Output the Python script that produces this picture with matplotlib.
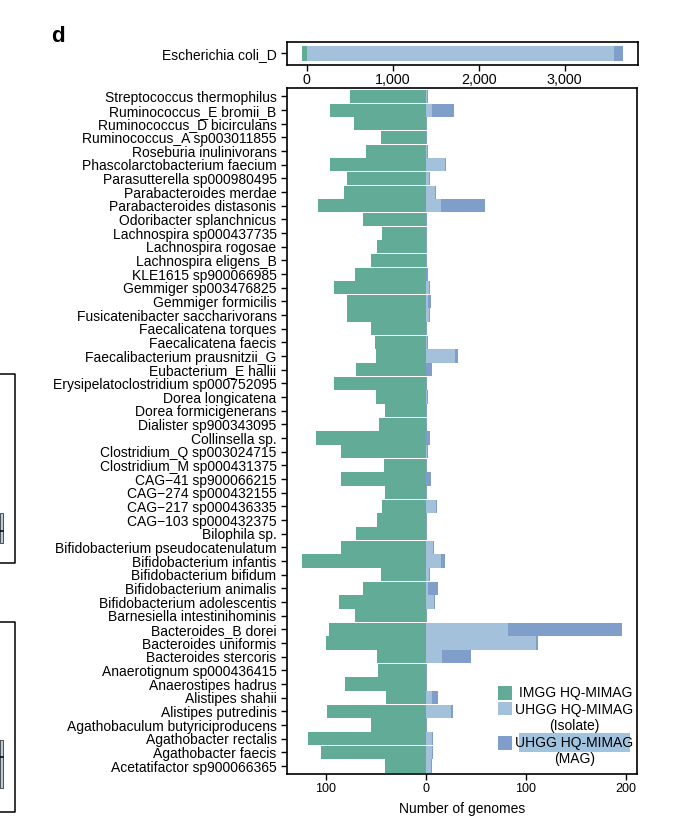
import matplotlib
matplotlib.use("Agg")
import matplotlib.pyplot as plt
from matplotlib.patches import Rectangle
from matplotlib.ticker import FuncFormatter
import numpy as np

plt.rcParams['font.family'] = ['Liberation Sans', 'DejaVu Sans']

species = [
    "Streptococcus thermophilus", "Ruminococcus_E bromii_B", "Ruminococcus_D bicirculans",
    "Ruminococcus_A sp003011855", "Roseburia inulinivorans", "Phascolarctobacterium faecium",
    "Parasutterella sp000980495", "Parabacteroides merdae", "Parabacteroides distasonis",
    "Odoribacter splanchnicus", "Lachnospira sp000437735", "Lachnospira rogosae",
    "Lachnospira eligens_B", "KLE1615 sp900066985", "Gemmiger sp003476825",
    "Gemmiger formicilis", "Fusicatenibacter saccharivorans", "Faecalicatena torques",
    "Faecalicatena faecis", "Faecalibacterium prausnitzii_G", "Eubacterium_E hallii",
    "Erysipelatoclostridium sp000752095", "Dorea longicatena", "Dorea formicigenerans",
    "Dialister sp900343095", "Collinsella sp.", "Clostridium_Q sp003024715",
    "Clostridium_M sp000431375", "CAG\u221241 sp900066215", "CAG\u2212274 sp000432155",
    "CAG\u2212217 sp000436335", "CAG\u2212103 sp000432375", "Bilophila sp.",
    "Bifidobacterium pseudocatenulatum", "Bifidobacterium infantis", "Bifidobacterium bifidum",
    "Bifidobacterium animalis", "Bifidobacterium adolescentis", "Barnesiella intestinihominis",
    "Bacteroides_B dorei", "Bacteroides uniformis", "Bacteroides stercoris",
    "Anaerotignum sp000436415", "Anaerostipes hadrus", "Alistipes shahii",
    "Alistipes putredinis", "Agathobaculum butyriciproducens", "Agathobacter rectalis",
    "Agathobacter faecis", "Acetatifactor sp900066365",
]
imgg = [76, 96, 72, 45, 60, 96, 79, 82, 108, 63, 44, 49, 55, 71, 92, 79, 79, 55, 51, 50,
        70, 92, 50, 41, 47, 110, 85, 42, 85, 41, 44, 49, 70, 85, 124, 45, 63, 87, 71, 97,
        100, 49, 48, 81, 40, 99, 55, 118, 105, 41]
uhgg_isolate = [1, 6, 0, 0, 1, 19, 3, 9, 15, 0, 0, 0, 0, 0, 3, 2, 3, 0, 1, 29,
                0, 0, 1, 0, 0, 0, 1, 0, 0, 0, 10, 0, 0, 7, 15, 3, 2, 8, 0, 82,
                110, 16, 0, 0, 6, 25, 0, 6, 6, 5]
uhgg_mag = [1, 22, 1, 1, 1, 1, 1, 1, 44, 1, 1, 1, 1, 2, 1, 3, 1, 1, 1, 3,
            6, 1, 1, 1, 1, 4, 1, 1, 5, 1, 1, 1, 1, 1, 4, 1, 10, 1, 1, 114,
            2, 29, 1, 1, 6, 2, 1, 1, 1, 1]

ecoli_label = "Escherichia coli_D"
ecoli_imgg = 58
ecoli_isolate = 3572
ecoli_mag = 106

main_ticks = [-100, 0, 100, 200]
top_ticks = [0, 1000, 2000, 3000]

C_IMGG = "#61AB97"
C_ISO = "#A3C1DB"
C_MAG = "#7F9EC9"

W, H = 678, 832
fig = plt.figure(figsize=(W / 100, H / 100), dpi=100)


def fax(l, t, r, b):
    return [l / W, 1 - b / H, (r - l) / W, (b - t) / H]


# top axis (E. coli)
axt = fig.add_axes(fax(286.7, 41.7, 638.3, 65))
axt.barh([0], [-ecoli_imgg], height=1, color=C_IMGG)
axt.barh([0], [ecoli_isolate], height=1, color=C_ISO)
axt.barh([0], [ecoli_mag], left=[ecoli_isolate], height=1, color=C_MAG)
axt.set_xlim(-232, 3856)
axt.set_ylim(-0.79, 0.79)
axt.set_yticks([0])
axt.set_yticklabels([ecoli_label], fontsize=10)
axt.set_xticks(top_ticks)
axt.xaxis.set_major_formatter(FuncFormatter(lambda v, p: f"{int(v):,}"))
axt.tick_params(axis='x', labelsize=10.3, length=4.5, width=1, pad=1.5)
axt.tick_params(axis='y', length=4.5, width=1, pad=3)
for s in axt.spines.values():
    s.set_linewidth(1.2)

# main axis
ax = fig.add_axes(fax(287, 88.3, 637, 773.7))
y = np.arange(len(species))
imgg_a = np.array(imgg)
iso_a = np.array(uhgg_isolate)
mag_a = np.array(uhgg_mag)
ax.barh(y, -imgg_a, height=0.97, color=C_IMGG, linewidth=0)
ax.barh(y, iso_a, height=0.97, color=C_ISO, linewidth=0)
ax.barh(y, mag_a, left=iso_a, height=0.97, color=C_MAG, linewidth=0)
ax.set_ylim(len(species) - 0.44, -0.6)
ax.set_xlim(-139, 211)
ax.set_yticks(y)
ax.set_yticklabels(species, fontsize=10)
ax.set_xticks(main_ticks)
ax.xaxis.set_major_formatter(FuncFormatter(lambda v, p: f"{abs(int(v))}"))
ax.tick_params(axis='x', labelsize=9, length=4.5, width=1, pad=2.5)
ax.tick_params(axis='y', length=4.5, width=1, pad=3)
ax.set_xlabel("Number of genomes", fontsize=10, labelpad=5)
for s in ax.spines.values():
    s.set_linewidth(1.2)

# legend (manual)
def frect(l, t, w, h, **kw):
    r = Rectangle((l / W, 1 - (t + h) / H), w / W, h / H, transform=fig.transFigure, **kw)
    fig.add_artist(r)

frect(498, 686, 14, 14, color=C_IMGG, linewidth=0, zorder=2)
frect(498, 702, 14, 13, color=C_ISO, linewidth=0, zorder=2)
frect(498, 736, 14, 14, color=C_MAG, linewidth=0, zorder=2)
frect(519, 733, 111, 19, color="#A0C3E0", linewidth=0, zorder=2)
fig.text(519 / W, 1 - 693 / H, "IMGG HQ-MIMAG", fontsize=10, va='center', ha='left', zorder=5)
fig.text(574.5 / W, 1 - 718 / H, "UHGG HQ-MIMAG\n(Isolate)", fontsize=10, va='center',
         ha='center', multialignment='center', linespacing=1.15, zorder=5)
fig.text(574.5 / W, 1 - 751 / H, "UHGG HQ-MIMAG\n(MAG)", fontsize=10, va='center',
         ha='center', multialignment='center', linespacing=1.15, zorder=5)

# panel label
fig.text(51 / W, 1 - 42 / H, "d", fontsize=16, fontweight='bold', ha='left', va='baseline')

# remnants of neighbouring panels at left edge
def fline(xs, ys):
    fig.add_artist(plt.Line2D([x / W for x in xs], [1 - v / H for v in ys],
                              transform=fig.transFigure, color='black', linewidth=1.1))

fline([0, 14.5, 14.5, 0], [374, 374, 563, 563])
frect(0, 513, 3, 30, facecolor="#B9CFE0", edgecolor="#333333", linewidth=0.6)
fline([0, 3], [531, 531])
fline([0, 14.5, 14.5, 0], [622, 622, 812, 812])
frect(0, 740, 3, 48, facecolor="#B9CFE0", edgecolor="#333333", linewidth=0.6)
fline([0, 3], [757, 757])

fig.savefig("out.png", dpi=100)
